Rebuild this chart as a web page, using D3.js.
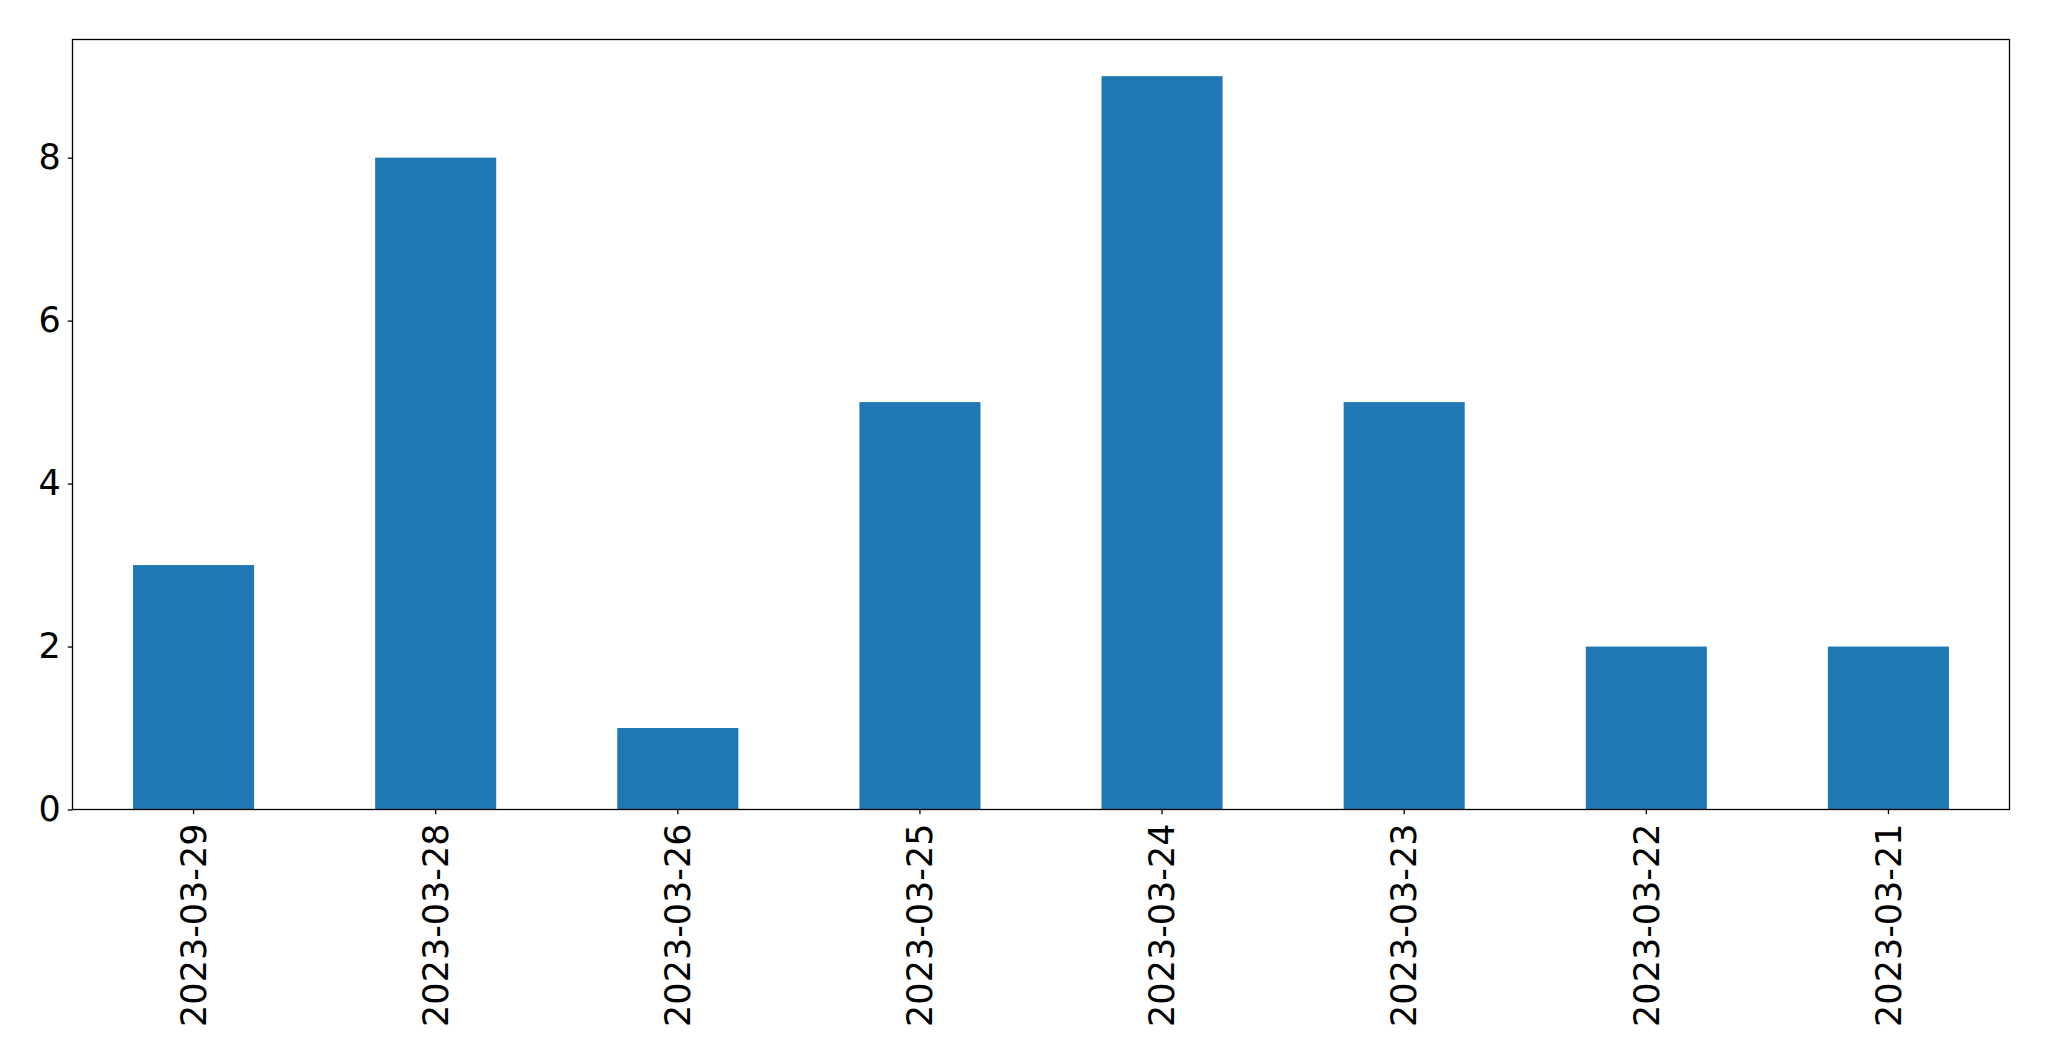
<!DOCTYPE html>
<html>
<head>
<meta charset="utf-8">
<script src="https://cdn.jsdelivr.net/npm/d3@7"></script>
<style>
  html, body { margin: 0; padding: 0; background: #fff; }
  svg { display: block; }
  text { font-family: "DejaVu Sans", sans-serif; }
</style>
</head>
<body>
<script>
const categories = ["2023-03-29", "2023-03-28", "2023-03-26", "2023-03-25", "2023-03-24", "2023-03-23", "2023-03-22", "2023-03-21"];
const values = [3, 8, 1, 5, 9, 5, 2, 2];
const yTicks = [0, 2, 4, 6, 8];

(function () {
const W = 2049, H = 1061;
const mLeft = 72.5, mRight = 2009.5, mTop = 39.5, mBottom = 809.5;

const svg = d3.select("body").append("svg").attr("width", W).attr("height", H);

const x = d3.scaleBand().domain(categories).range([mLeft, mRight]).paddingInner(0.5).paddingOuter(0.25);
const y = d3.scaleLinear().domain([0, d3.max(values) * 1.05]).range([mBottom, mTop]);

svg.append("g").selectAll("rect").data(values).join("rect")
  .attr("x", (d, i) => x(categories[i]))
  .attr("y", d => y(d))
  .attr("width", x.bandwidth())
  .attr("height", d => y(0) - y(d))
  .attr("fill", "#1f77b4");

svg.append("rect").attr("x", mLeft).attr("y", mTop).attr("width", mRight - mLeft).attr("height", mBottom - mTop)
  .attr("fill", "none").attr("stroke", "#000").attr("stroke-width", 1.3);

const yAxis = svg.append("g").attr("transform", `translate(${mLeft},0)`)
  .call(d3.axisLeft(y).tickValues(yTicks).tickSize(4.7).tickPadding(7).tickFormat(d3.format("d")));
yAxis.select(".domain").remove();
yAxis.selectAll("line").attr("stroke", "#000").attr("stroke-width", 1.3);
yAxis.selectAll("text").attr("font-size", 35).attr("fill", "#000");

const xAxis = svg.append("g").attr("transform", `translate(0,${mBottom})`)
  .call(d3.axisBottom(x).tickSize(4.7).tickPadding(0));
xAxis.select(".domain").remove();
xAxis.selectAll("line").attr("stroke", "#000").attr("stroke-width", 1.3);
xAxis.selectAll("text")
  .attr("font-size", 35).attr("fill", "#000")
  .attr("text-anchor", "end")
  .attr("transform", "rotate(-90)")
  .attr("x", -14).attr("y", 0).attr("dy", "0.35em");
})();
</script>
</body>
</html>
